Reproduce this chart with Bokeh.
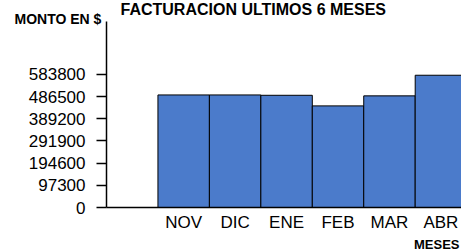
from bokeh.plotting import figure
from bokeh.models import Range1d, FixedTicker, Title
from bokeh.embed import file_html
from bokeh.resources import INLINE

# ---- data ----
months = ["NOV", "DIC", "ENE", "FEB", "MAR", "ABR"]
montos = [494000, 494000, 492500, 446000, 490000, 580500]
y_ticks = [0, 97300, 194600, 291900, 389200, 486500, 583800]
y_tick_labels = ["0", "97300", "194600", "291900", "389200", "486500", "583800"]
title_text = "FACTURACION ULTIMOS 6 MESES"
y_title = "MONTO EN $"
x_title = "MESES"

xs = list(range(1, len(months) + 1))
FONT = "Liberation Sans"
Y_END = 816400

p = figure(width=461, height=251, output_backend="svg", toolbar_location=None,
           x_range=Range1d(-0.5, 6.4), y_range=Range1d(0, Y_END),
           min_border_left=106, min_border_right=0, min_border_top=21, min_border_bottom=44)
p.outline_line_color = None
p.background_fill_color = "white"
p.border_fill_color = "white"
p.grid.visible = False

p.vbar(x=xs, top=montos, width=1.0, fill_color="#4B7BCB", line_color="black", line_width=1)

# y axis
ya = p.yaxis[0]
ya.ticker = FixedTicker(ticks=y_ticks)
ya.major_label_overrides = {t: l for t, l in zip(y_ticks, y_tick_labels)}
ya.axis_line_color = "black"
ya.axis_line_width = 1.5
ya.major_tick_line_color = "black"
ya.major_tick_line_width = 1.5
ya.major_tick_out = 10
ya.major_tick_in = 0
ya.minor_tick_line_color = None
ya.major_label_standoff = 11
ya.major_label_text_font = FONT
ya.major_label_text_font_size = "17px"
ya.major_label_text_color = "black"

# x axis
xa = p.xaxis[0]
xa.ticker = FixedTicker(ticks=xs)
xa.major_label_overrides = {x: m for x, m in zip(xs, months)}
xa.axis_line_color = "black"
xa.axis_line_width = 1.5
xa.major_tick_out = 0
xa.major_tick_in = 0
xa.major_tick_line_color = None
xa.minor_tick_line_color = None
xa.major_label_standoff = 5
xa.major_label_text_font = FONT
xa.major_label_text_font_size = "17px"
xa.major_label_text_color = "black"

# titles (in side panels so they are not clipped)
p.add_layout(Title(text=y_title, align="left", offset=-92, standoff=-10,
                   text_font=FONT, text_font_style="bold", text_font_size="14px",
                   text_color="black"), "above")
p.add_layout(Title(text=title_text, align="left", offset=14, standoff=-8,
                   text_font=FONT, text_font_style="bold", text_font_size="16px",
                   text_color="black"), "above")
p.add_layout(Title(text=x_title, align="right", offset=2, standoff=0,
                   text_font=FONT, text_font_style="bold", text_font_size="13px",
                   text_color="black"), "below")

open("out.html", "w").write(file_html(p, INLINE))
